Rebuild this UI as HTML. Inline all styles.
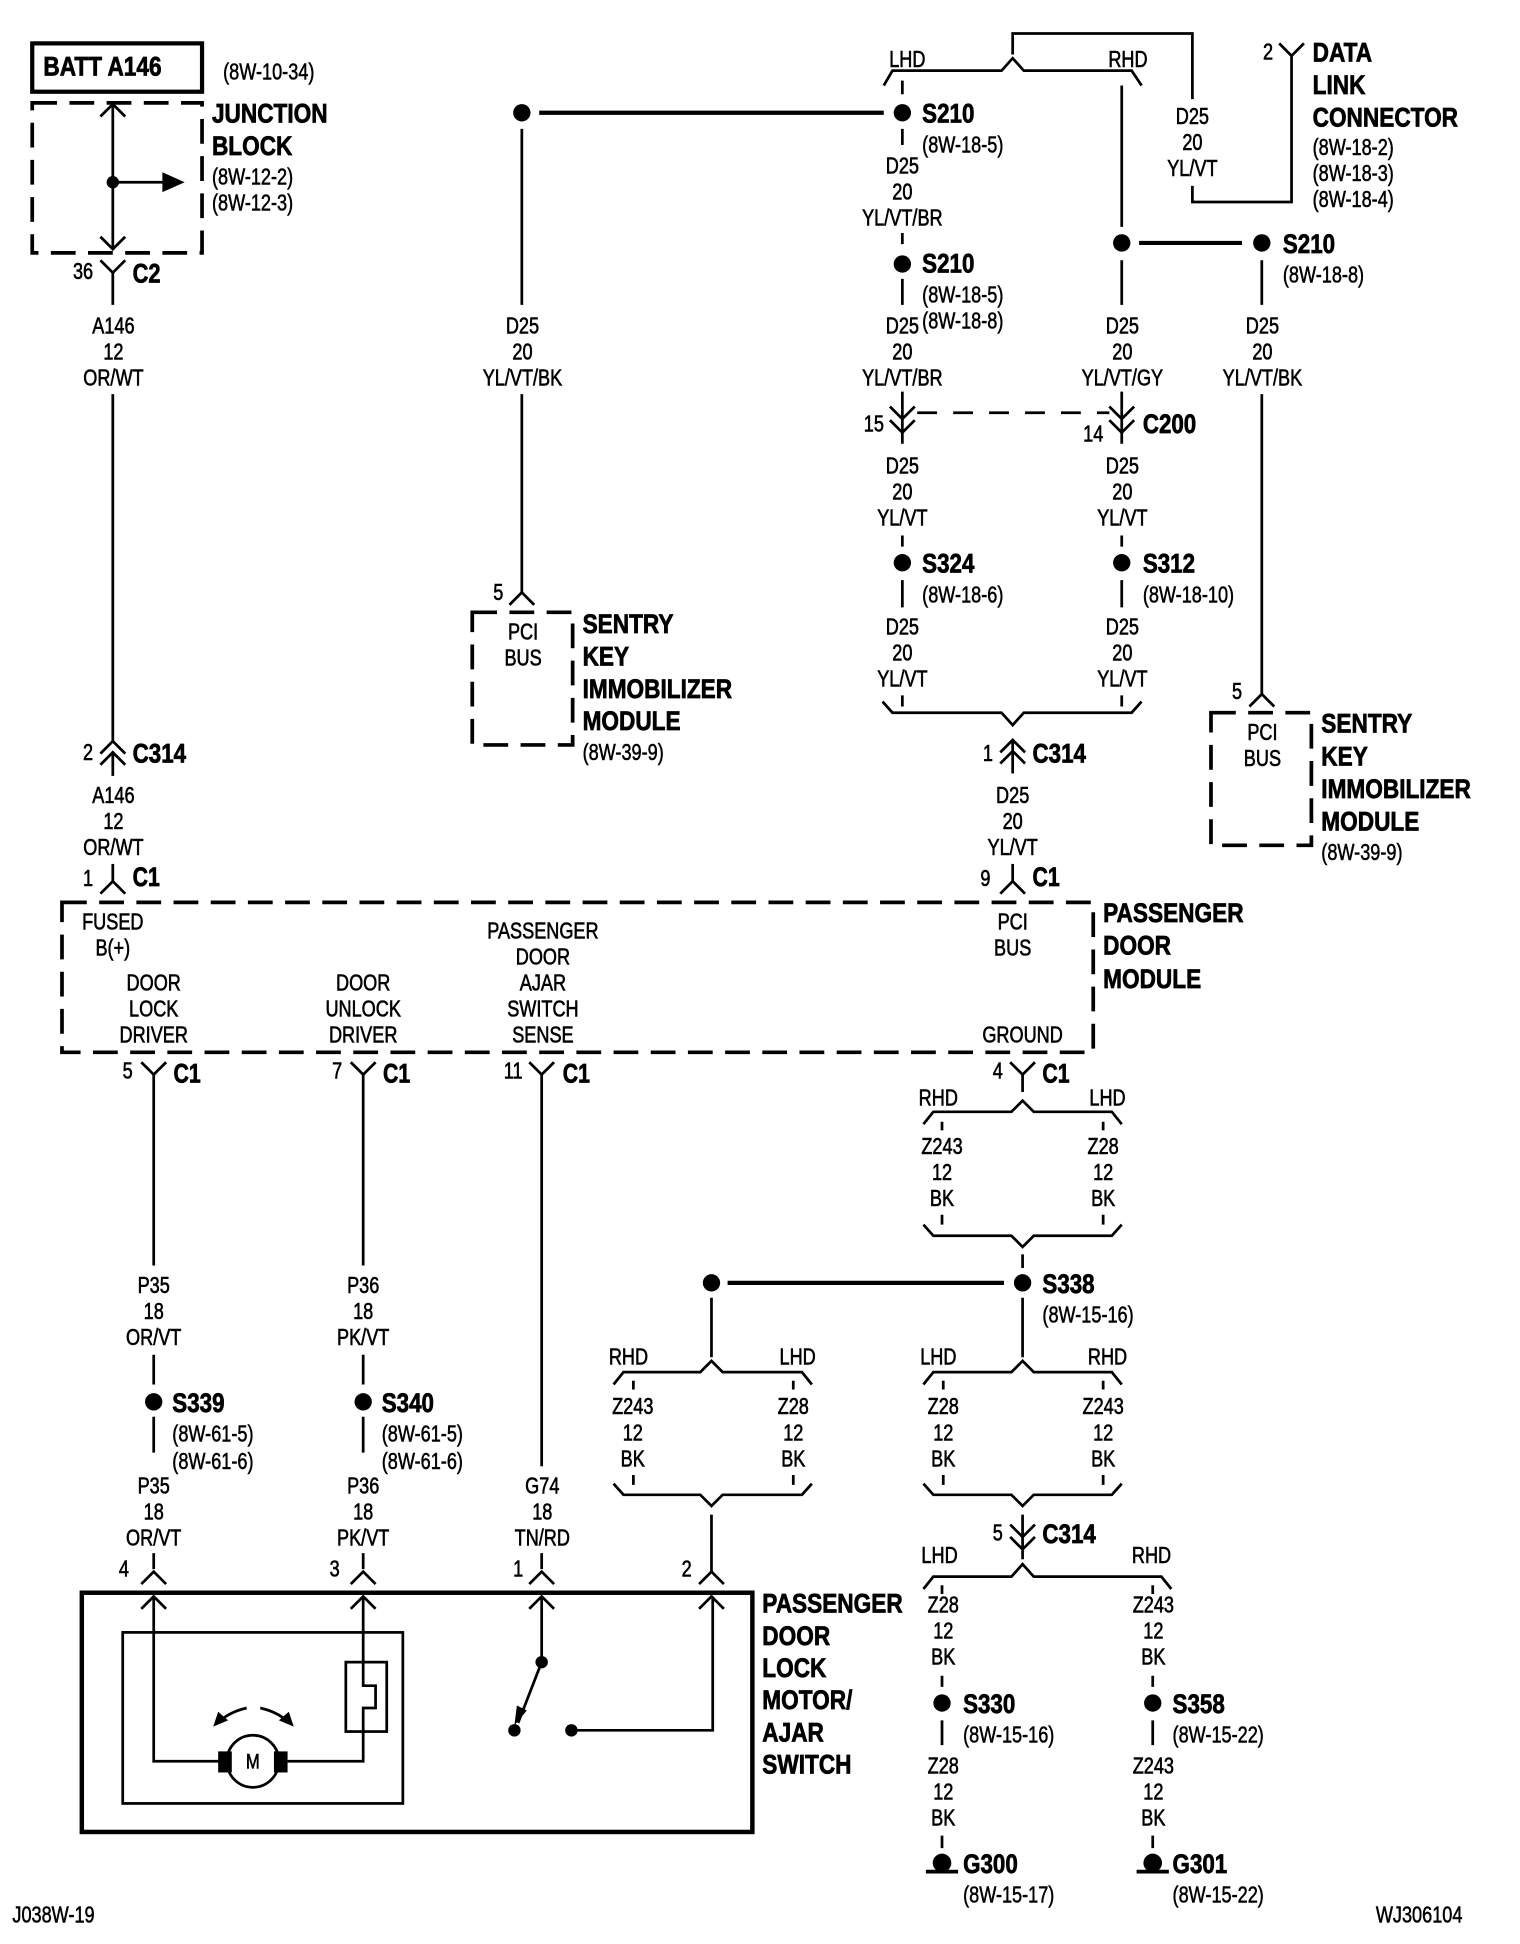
<!DOCTYPE html>
<html><head><meta charset="utf-8"><style>
html,body{margin:0;padding:0;background:#fff}
svg{display:block}
.l path,.l line,.l use,.l rect,.l ellipse{fill:none;stroke:#000;stroke-width:2.2}
text{fill:#000;stroke:#000}
.w text,text.w{font:18.5px "Liberation Sans",sans-serif;text-anchor:middle;stroke-width:.5}
.r text,text.r{font:18.5px "Liberation Sans",sans-serif;text-anchor:start;stroke-width:.45}
.b text,text.b{font:bold 22px "Liberation Sans",sans-serif;text-anchor:start;stroke-width:.6}
circle,.f{fill:#000;stroke:none}
</style></head><body>
<svg width="1520" height="1944" viewBox="0 0 1226.3 1568.4" xmlns="http://www.w3.org/2000/svg">
<rect width="1227" height="1569" fill="#fff"/>
<defs>
<path id="u" d="M-10 10 0 0 10 10"/>
<path id="d" d="M-10-10 0 0 10-10"/>
</defs>
<g class="l">
<!-- junction block -->
<rect x="26" y="35" width="137" height="39" style="stroke-width:3.4"/>
<path d="M26 83H163V204H26Z" style="stroke-width:3;stroke-dasharray:20 10"/>
<path d="M91 84V201M91 147H132"/>
<use href="#u" x="91" y="84"/><use href="#d" x="91" y="201"/>
<use href="#d" x="91" y="220"/><path d="M91 220V246M91 318V598"/>
<use href="#u" x="91" y="598"/><use href="#u" x="91" y="607"/><path d="M91 607V626"/>
<use href="#u" x="91" y="711"/><path d="M91 697V711"/>

<!-- centre immobilizer -->
<path d="M435 91H713" style="stroke-width:3.4"/>
<path d="M421 104V246M421 318V478"/><use href="#u" x="421" y="478"/>
<rect x="381" y="494" width="81" height="107" style="stroke-width:3;stroke-dasharray:20 10"/>

<!-- top right -->
<path d="M713 69 720 57H808L817 47 826 57H913L921 69"/>
<path d="M817 44V27H962V80M962 150V163H1042V45"/><use href="#d" x="1042" y="45"/>
<path d="M728 65V76M728 104V117M728 188V197M728 225V246M728 316V358"/>
<use href="#d" x="728" y="338"/><use href="#d" x="728" y="349"/>
<path d="M740 333H895" style="stroke-dasharray:16 13"/>
<path d="M905 69V183M905 210V246M905 316V358"/>
<use href="#d" x="905" y="338"/><use href="#d" x="905" y="349"/>
<path d="M919 196H1002" style="stroke-width:3.4"/>
<path d="M1018 210V246M1018 318V560"/><use href="#u" x="1018" y="560"/>
<rect x="977" y="575" width="81" height="107" style="stroke-width:3;stroke-dasharray:20 10"/>
<path d="M728 432V441M728 468V490M728 561V570M905 432V441M905 468V490M905 561V570"/>
<path d="M712 566 720 575H808L817 585 826 575H913L921 566"/>
<path d="M817 597V624"/><use href="#u" x="817" y="597"/><use href="#u" x="817" y="606"/>
<use href="#u" x="817" y="711"/><path d="M817 697V711"/>

<!-- passenger door module -->
<rect x="50" y="728" width="832" height="121" style="stroke-width:3;stroke-dasharray:20 10"/>
<use href="#d" x="124" y="867"/><use href="#d" x="293" y="867"/><use href="#d" x="437" y="867"/><use href="#d" x="825" y="867"/>
<path d="M124 867V1021M124 1093V1117M124 1143V1172M124 1253V1266"/>
<path d="M293 867V1021M293 1093V1117M293 1143V1172M293 1253V1266"/>
<path d="M437 867V1183M437 1253V1266"/>
<path d="M825 867V881"/>
<path d="M745 907 753 897H816L825 888 834 897H897L905 907"/>
<path d="M760 905V912M890 905V912M760 980V988M890 980V988"/>
<path d="M745 988 753 997H816L825 1006 834 997H897L905 988"/>
<path d="M825 1012V1023M825 1047V1095M574 1047V1095"/>
<path d="M587 1035H810" style="stroke-width:3.4"/>
<path d="M495 1117 503 1107H565L574 1098 583 1107H647L655 1117"/>
<path d="M745 1117 753 1107H816L825 1098 834 1107H897L905 1117"/>
<path d="M511 1114V1121M640 1114V1121M761 1114V1121M890 1114V1121M511 1190V1198M640 1190V1198M761 1190V1198M890 1190V1198"/>
<path d="M495 1197 503 1206H565L574 1215 583 1206H647L655 1197"/>
<path d="M745 1197 753 1206H816L825 1215 834 1206H897L905 1197"/>
<path d="M574 1222V1268"/><use href="#u" x="574" y="1268"/>
<path d="M825 1222V1258"/><use href="#d" x="825" y="1240"/><use href="#d" x="825" y="1250"/>
<path d="M745 1282 753 1272H816L825 1262 834 1272H937L945 1282"/>
<path d="M760 1279V1286M930 1279V1286M760 1352V1361M930 1352V1361M760 1388V1408M930 1388V1408M760 1481V1491M930 1481V1491"/>

<!-- motor box -->
<use href="#u" x="124" y="1268"/><use href="#u" x="293" y="1268"/><use href="#u" x="437" y="1268"/>
<rect x="66" y="1285" width="541" height="193" style="stroke-width:3.6"/>
<use href="#u" x="124" y="1288"/><use href="#u" x="293" y="1288"/><use href="#u" x="437" y="1288"/><use href="#u" x="574" y="1288"/>
<rect x="99" y="1317" width="226" height="138"/>
<rect x="279" y="1341" width="33" height="56"/>
<path d="M124 1288V1421H180M232 1421H293V1378H303V1360H293V1288"/>
<ellipse cx="204" cy="1421" rx="21" ry="21"/>
<path d="M437 1288V1341L418 1390M461 1396H575V1288"/>
<path d="M199 1378Q186 1381 178 1388M210 1378Q223 1381 231 1388"/>
<path d="M747 1510H773M917 1510H943" style="stroke-width:3"/>
</g>

<g>
<path class="f" d="M131 139 149 147 131 155Z"/>
<path class="f" d="M172 1393 176 1381 184 1388ZM237 1393 233 1381 225 1388ZM415 1392 417 1376 425 1380Z"/>
<rect class="f" x="176" y="1413" width="11" height="17"/><rect class="f" x="221" y="1413" width="11" height="17"/>
<circle cx="91" cy="147" r="5"/>
<circle cx="421" cy="91" r="7"/><circle cx="728" cy="91" r="7"/><circle cx="728" cy="213" r="7"/>
<circle cx="905" cy="196" r="7"/><circle cx="1018" cy="196" r="7"/>
<circle cx="728" cy="454" r="7"/><circle cx="905" cy="454" r="7"/>
<circle cx="124" cy="1131" r="7"/><circle cx="293" cy="1131" r="7"/>
<circle cx="574" cy="1035" r="7"/><circle cx="825" cy="1035" r="7"/>
<circle cx="760" cy="1374" r="7"/><circle cx="930" cy="1374" r="7"/>
<circle cx="437" cy="1341" r="5"/><circle cx="415" cy="1396" r="5"/><circle cx="461" cy="1396" r="5"/>
<circle cx="760" cy="1503" r="7.5"/><circle cx="930" cy="1503" r="7.5"/>
</g>

<!-- bold labels -->
<g class="b">
<text transform="translate(35,61) scale(.83,1)">BATT A146</text>
<text transform="translate(171,99) scale(.83,1)">JUNCTION</text>
<text transform="translate(171,125) scale(.83,1)">BLOCK</text>
<text transform="translate(107,615) scale(.82,1)">C314</text>
<text transform="translate(833,615) scale(.82,1)">C314</text>
<text transform="translate(833,715) scale(.78,1)">C1</text>
<text transform="translate(107,715) scale(.78,1)">C1</text>
<text transform="translate(107,228) scale(.8,1)">C2</text>
<text transform="translate(1059,49.5) scale(.83,1)">DATA</text>
<text transform="translate(1059,76) scale(.83,1)">LINK</text>
<text transform="translate(1059,102) scale(.83,1)">CONNECTOR</text>
<text transform="translate(744,99) scale(.82,1)">S210</text>
<text transform="translate(744,220) scale(.82,1)">S210</text>
<text transform="translate(1035,204) scale(.82,1)">S210</text>
<text transform="translate(922,349.5) scale(.82,1)">C200</text>
<text transform="translate(744,462) scale(.82,1)">S324</text>
<text transform="translate(922,462) scale(.82,1)">S312</text>
<text transform="translate(470,510.5) scale(.83,1)">SENTRY</text>
<text transform="translate(470,537) scale(.83,1)">KEY</text>
<text transform="translate(470,563) scale(.83,1)">IMMOBILIZER</text>
<text transform="translate(470,589) scale(.83,1)">MODULE</text>
<text transform="translate(1066,591) scale(.83,1)">SENTRY</text>
<text transform="translate(1066,617.5) scale(.83,1)">KEY</text>
<text transform="translate(1066,644) scale(.83,1)">IMMOBILIZER</text>
<text transform="translate(1066,670) scale(.83,1)">MODULE</text>
<text transform="translate(890,744) scale(.83,1)">PASSENGER</text>
<text transform="translate(890,770) scale(.83,1)">DOOR</text>
<text transform="translate(890,797) scale(.83,1)">MODULE</text>
<text transform="translate(140,873.5) scale(.78,1)">C1</text>
<text transform="translate(309,873.5) scale(.78,1)">C1</text>
<text transform="translate(454,873.5) scale(.78,1)">C1</text>
<text transform="translate(841,873.5) scale(.78,1)">C1</text>
<text transform="translate(841,1043) scale(.82,1)">S338</text>
<text transform="translate(139,1139) scale(.82,1)">S339</text>
<text transform="translate(308,1139) scale(.82,1)">S340</text>
<text transform="translate(841,1245) scale(.82,1)">C314</text>
<text transform="translate(777,1382) scale(.82,1)">S330</text>
<text transform="translate(946,1382) scale(.82,1)">S358</text>
<text transform="translate(777,1511) scale(.82,1)">G300</text>
<text transform="translate(946,1511) scale(.82,1)">G301</text>
<text transform="translate(615,1301) scale(.83,1)">PASSENGER</text>
<text transform="translate(615,1327) scale(.83,1)">DOOR</text>
<text transform="translate(615,1353) scale(.83,1)">LOCK</text>
<text transform="translate(615,1379) scale(.83,1)">MOTOR/</text>
<text transform="translate(615,1405) scale(.83,1)">AJAR</text>
<text transform="translate(615,1431) scale(.83,1)">SWITCH</text>
</g>

<!-- references -->
<g class="r">
<text transform="translate(180,64) scale(.79,1)">(8W-10-34)</text>
<text transform="translate(171,149) scale(.79,1)">(8W-12-2)</text>
<text transform="translate(171,170) scale(.79,1)">(8W-12-3)</text>
<text transform="translate(1059,125) scale(.79,1)">(8W-18-2)</text>
<text transform="translate(1059,146) scale(.79,1)">(8W-18-3)</text>
<text transform="translate(1059,167) scale(.79,1)">(8W-18-4)</text>
<text transform="translate(744,123) scale(.79,1)">(8W-18-5)</text>
<text transform="translate(744,244) scale(.79,1)">(8W-18-5)</text>
<text transform="translate(744,265) scale(.79,1)">(8W-18-8)</text>
<text transform="translate(1035,228) scale(.79,1)">(8W-18-8)</text>
<text transform="translate(744,486) scale(.79,1)">(8W-18-6)</text>
<text transform="translate(922,486) scale(.79,1)">(8W-18-10)</text>
<text transform="translate(470,613) scale(.79,1)">(8W-39-9)</text>
<text transform="translate(1066,694) scale(.79,1)">(8W-39-9)</text>
<text transform="translate(841,1067) scale(.79,1)">(8W-15-16)</text>
<text transform="translate(139,1163) scale(.79,1)">(8W-61-5)</text>
<text transform="translate(139,1185) scale(.79,1)">(8W-61-6)</text>
<text transform="translate(308,1163) scale(.79,1)">(8W-61-5)</text>
<text transform="translate(308,1185) scale(.79,1)">(8W-61-6)</text>
<text transform="translate(777,1406) scale(.79,1)">(8W-15-16)</text>
<text transform="translate(946,1406) scale(.79,1)">(8W-15-22)</text>
<text transform="translate(777,1535) scale(.79,1)">(8W-15-17)</text>
<text transform="translate(946,1535) scale(.79,1)">(8W-15-22)</text>
<text transform="translate(10,1551) scale(.79,1)">J038W-19</text>
<text transform="translate(1110,1551) scale(.79,1)">WJ306104</text>
</g>

<!-- wire labels and pin numbers -->
<g class="w">
<g transform="translate(91.5,269) scale(.79,1)"><text>A146</text><text y="21">12</text><text y="42">OR/WT</text></g>
<g transform="translate(421.5,269) scale(.79,1)"><text>D25</text><text y="21">20</text><text y="42">YL/VT/BK</text></g>
<g transform="translate(962,100) scale(.79,1)"><text>D25</text><text y="21">20</text><text y="42">YL/VT</text></g>
<g transform="translate(728,140) scale(.79,1)"><text>D25</text><text y="21">20</text><text y="42">YL/VT/BR</text></g>
<g transform="translate(728,269) scale(.79,1)"><text>D25</text><text y="21">20</text><text y="42">YL/VT/BR</text></g>
<g transform="translate(905.5,269) scale(.79,1)"><text>D25</text><text y="21">20</text><text y="42">YL/VT/GY</text></g>
<g transform="translate(1018.5,269) scale(.79,1)"><text>D25</text><text y="21">20</text><text y="42">YL/VT/BK</text></g>
<g transform="translate(728,382) scale(.79,1)"><text>D25</text><text y="21">20</text><text y="42">YL/VT</text></g>
<g transform="translate(905.5,382) scale(.79,1)"><text>D25</text><text y="21">20</text><text y="42">YL/VT</text></g>
<g transform="translate(728,512) scale(.79,1)"><text>D25</text><text y="21">20</text><text y="42">YL/VT</text></g>
<g transform="translate(905.5,512) scale(.79,1)"><text>D25</text><text y="21">20</text><text y="42">YL/VT</text></g>
<g transform="translate(817,648) scale(.79,1)"><text>D25</text><text y="21">20</text><text y="42">YL/VT</text></g>
<g transform="translate(91.5,648) scale(.79,1)"><text>A146</text><text y="21">12</text><text y="42">OR/WT</text></g>
<g transform="translate(422,516) scale(.79,1)"><text>PCI</text><text y="21">BUS</text></g>
<g transform="translate(1018.5,597) scale(.79,1)"><text>PCI</text><text y="21">BUS</text></g>
<g transform="translate(817,750) scale(.79,1)"><text>PCI</text><text y="21">BUS</text></g>
<g transform="translate(91,750) scale(.79,1)"><text>FUSED</text><text y="21">B(+)</text></g>
<g transform="translate(124,799) scale(.79,1)"><text>DOOR</text><text y="21">LOCK</text><text y="42">DRIVER</text></g>
<g transform="translate(293,799) scale(.79,1)"><text>DOOR</text><text y="21">UNLOCK</text><text y="42">DRIVER</text></g>
<g transform="translate(438,757) scale(.79,1)"><text>PASSENGER</text><text y="21">DOOR</text><text y="42">AJAR</text><text y="63">SWITCH</text><text y="84">SENSE</text></g>
<text class="w" transform="translate(825,841) scale(.79,1)">GROUND</text>
<g transform="translate(760,931) scale(.79,1)"><text>Z243</text><text y="21">12</text><text y="42">BK</text></g>
<g transform="translate(890,931) scale(.79,1)"><text>Z28</text><text y="21">12</text><text y="42">BK</text></g>
<g transform="translate(124,1043) scale(.79,1)"><text>P35</text><text y="21">18</text><text y="42">OR/VT</text></g>
<g transform="translate(293,1043) scale(.79,1)"><text>P36</text><text y="21">18</text><text y="42">PK/VT</text></g>
<g transform="translate(124,1205) scale(.79,1)"><text>P35</text><text y="21">18</text><text y="42">OR/VT</text></g>
<g transform="translate(293,1205) scale(.79,1)"><text>P36</text><text y="21">18</text><text y="42">PK/VT</text></g>
<g transform="translate(437.5,1205) scale(.79,1)"><text>G74</text><text y="21">18</text><text y="42">TN/RD</text></g>
<g transform="translate(510.5,1141) scale(.79,1)"><text>Z243</text><text y="21">12</text><text y="42">BK</text></g>
<g transform="translate(640,1141) scale(.79,1)"><text>Z28</text><text y="21">12</text><text y="42">BK</text></g>
<g transform="translate(761,1141) scale(.79,1)"><text>Z28</text><text y="21">12</text><text y="42">BK</text></g>
<g transform="translate(890,1141) scale(.79,1)"><text>Z243</text><text y="21">12</text><text y="42">BK</text></g>
<g transform="translate(761,1301) scale(.79,1)"><text>Z28</text><text y="21">12</text><text y="42">BK</text></g>
<g transform="translate(930.5,1301) scale(.79,1)"><text>Z243</text><text y="21">12</text><text y="42">BK</text></g>
<g transform="translate(761,1431) scale(.79,1)"><text>Z28</text><text y="21">12</text><text y="42">BK</text></g>
<g transform="translate(930.5,1431) scale(.79,1)"><text>Z243</text><text y="21">12</text><text y="42">BK</text></g>
<text transform="translate(732,54) scale(.79,1)">LHD</text>
<text transform="translate(910,54) scale(.79,1)">RHD</text>
<text transform="translate(757,892) scale(.79,1)">RHD</text>
<text transform="translate(893.5,892) scale(.79,1)">LHD</text>
<text transform="translate(507,1101) scale(.79,1)">RHD</text>
<text transform="translate(643.5,1101) scale(.79,1)">LHD</text>
<text transform="translate(757,1101) scale(.79,1)">LHD</text>
<text transform="translate(893.5,1101) scale(.79,1)">RHD</text>
<text transform="translate(758,1261) scale(.79,1)">LHD</text>
<text transform="translate(929,1261) scale(.79,1)">RHD</text>
<text transform="translate(67,225) scale(.79,1)">36</text>
<text transform="translate(71,613) scale(.79,1)">2</text>
<text transform="translate(71,715) scale(.79,1)">1</text>
<text transform="translate(402,484) scale(.79,1)">5</text>
<text transform="translate(1023,48) scale(.79,1)">2</text>
<text transform="translate(705,348) scale(.79,1)">15</text>
<text transform="translate(882,356) scale(.79,1)">14</text>
<text transform="translate(998,564) scale(.79,1)">5</text>
<text transform="translate(797,614) scale(.79,1)">1</text>
<text transform="translate(795,715) scale(.79,1)">9</text>
<text transform="translate(103,870) scale(.79,1)">5</text>
<text transform="translate(272,870) scale(.79,1)">7</text>
<text transform="translate(414,870) scale(.79,1)">11</text>
<text transform="translate(805,870) scale(.79,1)">4</text>
<text transform="translate(805,1243) scale(.79,1)">5</text>
<text transform="translate(100,1272) scale(.79,1)">4</text>
<text transform="translate(270,1272) scale(.79,1)">3</text>
<text transform="translate(418,1272) scale(.79,1)">1</text>
<text transform="translate(554,1272) scale(.79,1)">2</text>
<text transform="translate(204,1427) scale(.79,1)" style="font-size:17px">M</text>
</g>
</svg>
</body></html>
